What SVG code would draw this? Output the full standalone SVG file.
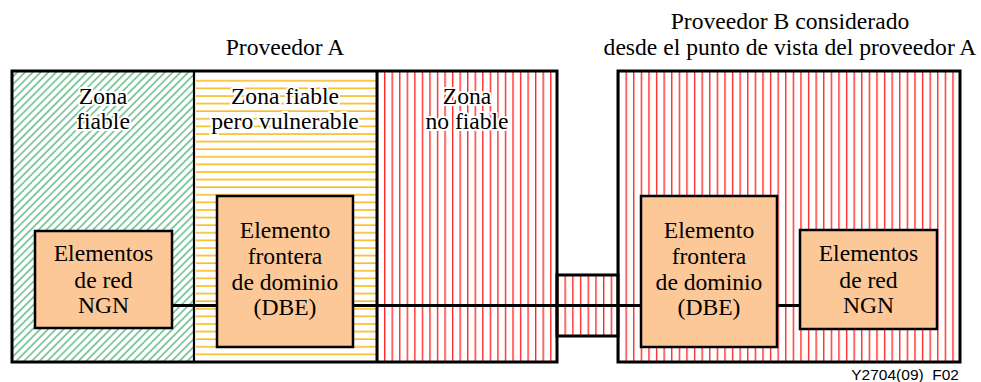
<svg xmlns="http://www.w3.org/2000/svg" width="981" height="382" viewBox="0 0 981 382">
<style>
.t{font-family:"Liberation Serif","DejaVu Serif","Times New Roman",Times,serif;font-size:23.6px;fill:#000;text-anchor:middle}
.h{paint-order:stroke;stroke:#fff;stroke-width:4;stroke-linejoin:round}
.zone{stroke:none}
.frame{fill:none;stroke:#000;stroke-width:3}
.box{fill:#fdc897;stroke:#000;stroke-width:2.5}
.conn{stroke:#000;stroke-width:3;fill:none}
.foot{font-family:"Liberation Sans",Arial,sans-serif;font-size:15.5px;fill:#000;text-anchor:end}
</style>
<defs>
<pattern id="pg" patternUnits="userSpaceOnUse" width="5.5" height="5.5" patternTransform="rotate(45)">
<line x1="2.75" y1="0" x2="2.75" y2="5.5" stroke="#12994a" stroke-width="1"/>
</pattern>
<pattern id="po" patternUnits="userSpaceOnUse" x="0" y="80.7" width="10" height="7.6">
<line x1="0" y1="0.1" x2="10" y2="0.1" stroke="#f5b000" stroke-width="1.4"/>
<line x1="0" y1="7.7" x2="10" y2="7.7" stroke="#f5b000" stroke-width="1.4"/>
</pattern>
<pattern id="pr" patternUnits="userSpaceOnUse" x="384" y="0" width="7.55" height="10">
<line x1="0.7" y1="0" x2="0.7" y2="10" stroke="#ff1a1a" stroke-width="1.3"/>
</pattern>
<pattern id="pr2" patternUnits="userSpaceOnUse" x="625.5" y="0" width="7.6" height="10">
<line x1="0.7" y1="0" x2="0.7" y2="10" stroke="#ff1a1a" stroke-width="1.3"/>
</pattern>
<pattern id="pr3" patternUnits="userSpaceOnUse" x="564.5" y="0" width="7.7" height="10">
<line x1="0.7" y1="0" x2="0.7" y2="10" stroke="#ff1a1a" stroke-width="1.3"/>
</pattern>
</defs>

<g id="title-a"><text class="t" x="285" y="55">Proveedor A</text></g>
<g id="title-b">
<text class="t" x="790" y="29">Proveedor B considerado</text>
<text class="t" x="790" y="55">desde el punto de vista del proveedor A</text>
</g>

<g id="zona-fiable">
<rect class="zone" x="12" y="71" width="182" height="291" fill="url(#pg)"/>
<text class="t h" x="103" y="104">Zona</text>
<text class="t h" x="103" y="129">fiable</text>
</g>
<g id="zona-vulnerable">
<rect class="zone" x="196" y="79" width="180" height="281" fill="url(#po)"/>
<text class="t h" x="285" y="104">Zona fiable</text>
<text class="t h" x="285" y="129">pero vulnerable</text>
</g>
<g id="zona-no-fiable">
<rect class="zone" x="377" y="71" width="180" height="291" fill="url(#pr)"/>
<text class="t h" x="467" y="104">Zona</text>
<text class="t h" x="467" y="129">no fiable</text>
</g>
<g id="proveedor-a-frame">
<rect class="frame" x="12" y="71" width="545" height="291"/>
<line x1="194" y1="71" x2="194" y2="362" stroke="#000" stroke-width="2.2"/>
<line x1="377" y1="71" x2="377" y2="362" stroke="#000" stroke-width="3"/>
</g>
<g id="enlace">
<rect x="557" y="275" width="61" height="61" fill="url(#pr3)" stroke="#000" stroke-width="3"/>
</g>
<g id="proveedor-b">
<rect x="618" y="71" width="342" height="291" fill="url(#pr2)" stroke="#000" stroke-width="3"/>
</g>

<g id="connectors">
<line class="conn" x1="172" y1="305.5" x2="217" y2="305.5"/>
<line class="conn" x1="353" y1="305.5" x2="641" y2="305.5"/>
<line class="conn" x1="777" y1="305.5" x2="800" y2="305.5"/>
</g>

<g id="ngn-a">
<rect class="box" x="35" y="231" width="137" height="97"/>
<text class="t" x="103.5" y="261">Elementos</text>
<text class="t" x="103.5" y="287.5">de red</text>
<text class="t" x="103.5" y="313">NGN</text>
</g>
<g id="dbe-a">
<rect class="box" x="217" y="196" width="136" height="151"/>
<text class="t" x="285" y="238">Elemento</text>
<text class="t" x="285" y="263.5">frontera</text>
<text class="t" x="285" y="289.5">de dominio</text>
<text class="t" x="285" y="315">(DBE)</text>
</g>
<g id="dbe-b">
<rect class="box" x="641" y="196" width="136" height="151"/>
<text class="t" x="709" y="238">Elemento</text>
<text class="t" x="709" y="263.5">frontera</text>
<text class="t" x="709" y="289.5">de dominio</text>
<text class="t" x="709" y="315">(DBE)</text>
</g>
<g id="ngn-b">
<rect class="box" x="800" y="230" width="137" height="99"/>
<text class="t" x="868.5" y="261">Elementos</text>
<text class="t" x="868.5" y="287.5">de red</text>
<text class="t" x="868.5" y="313">NGN</text>
</g>

<g id="footer"><text class="foot" x="959" y="380">Y2704(09)_F02</text></g>
</svg>
